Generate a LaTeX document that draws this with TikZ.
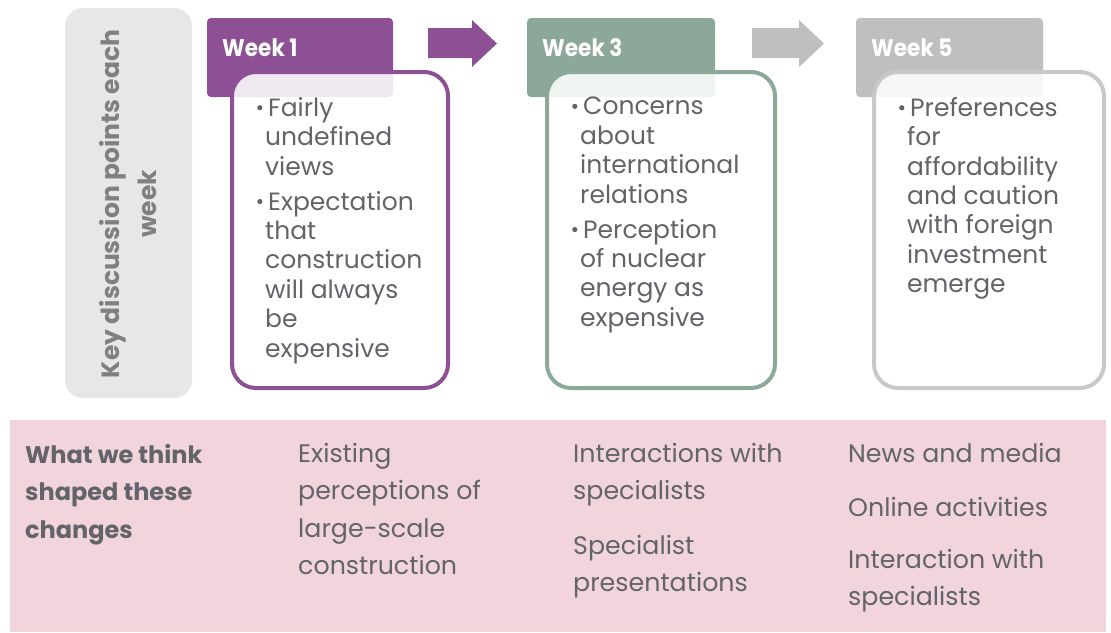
\documentclass[tikz,border=0pt]{standalone}
\usepackage{fontspec}
\setmainfont{Poppins}
\definecolor{wkpurple}{HTML}{8E5094}
\definecolor{wkgreen}{HTML}{8BA898}
\definecolor{wkgray}{HTML}{BFBFBF}
\definecolor{wkgrayline}{HTML}{C8C8C8}
\definecolor{sidegray}{HTML}{E7E7E7}
\definecolor{pinkbg}{HTML}{F2D5DC}
\definecolor{txtgray}{HTML}{626469}
\definecolor{sidetxt}{HTML}{808080}
\tikzset{
  header/.style={fill=#1, rounded corners=4pt},
  content/.style={draw=#1, line width=4pt, fill=white, fill opacity=0.87, rounded corners=24pt},
  hdtext/.style={anchor=base west, inner sep=0pt, text=white, font=\bfseries\fontsize{24}{29}\selectfont\addfontfeature{FakeStretch=0.9}},
  bodytext/.style={anchor=north west, inner sep=0pt, align=left, text=txtgray, font=\fontsize{25}{29.4}\selectfont},
  lowtext/.style={anchor=north west, inner sep=0pt, align=left, text=txtgray, font=\fontsize{25.3}{37.5}\selectfont},
  blockarrow/.style={fill=#1}
}
\newcommand{\bitem}[1]{\makebox[11pt][l]{\tikz[baseline=-8.5pt]\fill[txtgray] (0,0) circle (2.6pt);}#1}
\newcommand{\cont}{\hspace*{8pt}}
\begin{document}
\begin{tikzpicture}[x=1pt,y=-1pt]
\useasboundingbox (0,0) rectangle (1111,632);
% left side box
\fill[sidegray, rounded corners=18pt] (65,8) rectangle (192,398);
\node[rotate=90, align=center, text=sidetxt, font=\bfseries\fontsize{25}{37}\selectfont, inner sep=0pt] (side) at (128,204) {Key discussion points each\\week};
% bottom band
\fill[pinkbg] (10,420) rectangle (1106,632);
% Week 1
\fill[header=wkpurple] (207,18) rectangle (393,97);
\node[hdtext] (h1) at (222,56) {Week 1};
\draw[content=wkpurple] (232,72) rectangle (448,388);
\node[bodytext] (b1) at (257,97) {\bitem{Fairly}\\\cont undefined\\\cont views\\[5.6pt]\bitem{Expectation}\\\cont that\\\cont construction\\\cont will always\\\cont be\\\cont expensive};
% Arrow 1
\fill[blockarrow=wkpurple] (428,28) -- (472,28) -- (472,20) -- (497,43.5) -- (472,67) -- (472,58) -- (428,58) -- cycle;
% Week 3
\fill[header=wkgreen] (527,18) rectangle (715,97);
\node[hdtext] (h3) at (542,56) {Week 3};
\draw[content=wkgreen] (547,72) rectangle (775,388);
\node[bodytext] (b3) at (572,97) {\bitem{Concerns}\\\cont about\\\cont international\\\cont relations\\[5.6pt]\bitem{Perception}\\\cont of nuclear\\\cont energy as\\\cont expensive};
% Arrow 2
\fill[blockarrow=wkgray] (752,28) -- (799,28) -- (799,20) -- (824,43.5) -- (799,67) -- (799,58) -- (752,58) -- cycle;
% Week 5
\fill[header=wkgray] (856,18) rectangle (1043,97);
\node[hdtext] (h5) at (871,56) {Week 5};
\draw[content=wkgrayline] (874,72) rectangle (1104,388);
\node[bodytext] (b5) at (899,97) {\bitem{Preferences}\\\cont for\\\cont affordability\\\cont and caution\\\cont with foreign\\\cont investment\\\cont emerge};
% bottom texts
\node[lowtext, font=\bfseries\fontsize{24}{37.5}\selectfont] (q) at (25,444) {What we think\\shaped these\\changes};
\node[lowtext] (c1) at (298,443) {Existing\\perceptions of\\large-scale\\construction};
\node[lowtext] (c2a) at (573,443) {Interactions with\\specialists};
\node[lowtext] (c2b) at (573,535) {Specialist\\presentations};
\node[lowtext] (c3a) at (848,443) {News and media};
\node[lowtext] (c3b) at (848,497) {Online activities};
\node[lowtext] (c3c) at (848,549) {Interaction with\\specialists};
\end{tikzpicture}
\end{document}
